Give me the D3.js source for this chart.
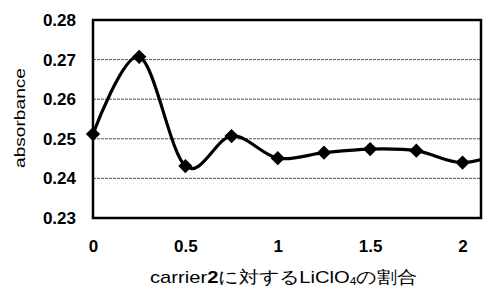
<!DOCTYPE html>
<html>
<head>
<meta charset="utf-8">
<script src="https://cdn.jsdelivr.net/npm/d3@7"></script>
<style>
  body { margin: 0; background: #fff; }
  text { font-family: "Liberation Sans", Arial, sans-serif; }
</style>
</head>
<body>
<script>
// ratio of LiClO4 to carrier2 and absorbance
var ratio = [0, 0.25, 0.5, 0.75, 1, 1.25, 1.5, 1.75, 2, 2.25]
var absorbance = [0.2512, 0.2707, 0.2431, 0.2507, 0.2451, 0.2465, 0.2474, 0.2470, 0.2440, 0.2470]
var xTicks = [0, 0.5, 1, 1.5, 2]
var yTicks = [0.23, 0.24, 0.25, 0.26, 0.27, 0.28]

var w = 483
var h = 290
var m = {left: 93, right: 2, top: 20, bottom: 72}

var svg = d3.select("body").append("svg")
    .attr("width", w)
    .attr("height", h)

var x = d3.scaleLinear().domain([0, 2.1]).range([m.left, w - m.right])
var y = d3.scaleLinear().domain([0.23, 0.28]).range([h - m.bottom, m.top])

// grid
svg.append("g").selectAll("line").data(yTicks.slice(1, -1)).enter()
    .append("line")
    .attr("x1", x(0)).attr("x2", x(2.1))
    .attr("y1", function (d) { return y(d) }).attr("y2", function (d) { return y(d) })
    .attr("stroke", "#555")
    .attr("stroke-width", 1)
    .attr("stroke-dasharray", "3,1")

svg.append("clipPath").attr("id", "clip")
    .append("rect")
    .attr("x", x(0) - 9).attr("y", y(0.28))
    .attr("width", x(2.1) - x(0) + 9).attr("height", y(0.23) - y(0.28))

var line = d3.line()
    .x(function (d, i) { return x(ratio[i]) })
    .y(function (d) { return y(d) })
    .curve(d3.curveCatmullRom.alpha(0))

var g = svg.append("g").attr("clip-path", "url(#clip)")

g.append("path")
    .datum(absorbance)
    .attr("d", line)
    .attr("fill", "none")
    .attr("stroke", "#000")
    .attr("stroke-width", 3.2)

g.selectAll("path.pt").data(absorbance).enter()
    .append("path")
    .attr("class", "pt")
    .attr("d", d3.symbol().type(d3.symbolDiamond2).size(130))
    .attr("transform", function (d, i) { return "translate(" + x(ratio[i]) + "," + y(d) + ")" })
    .attr("fill", "#000")

// frame
svg.append("rect")
    .attr("x", x(0)).attr("y", y(0.28))
    .attr("width", x(2.1) - x(0)).attr("height", y(0.23) - y(0.28))
    .attr("fill", "none")
    .attr("stroke", "#000")
    .attr("stroke-width", 2.5)

var yAxis = d3.axisLeft(y).tickValues(yTicks).tickSize(0).tickPadding(17)
    .tickFormat(d3.format(".2f"))
var xAxis = d3.axisBottom(x).tickValues(xTicks).tickSize(0).tickPadding(22)
    .tickFormat(function (d) { return d })

svg.append("g")
    .attr("transform", "translate(" + m.left + ",0)")
    .call(yAxis)
    .call(function (s) { s.select(".domain").remove() })
    .selectAll("text")
    .attr("font-size", 17).attr("font-weight", "bold").attr("font-family", "Liberation Sans, Arial, sans-serif")

svg.append("g")
    .attr("transform", "translate(0," + (h - m.bottom) + ")")
    .call(xAxis)
    .call(function (s) { s.select(".domain").remove() })
    .selectAll("text")
    .attr("font-size", 17).attr("font-weight", "bold").attr("font-family", "Liberation Sans, Arial, sans-serif")

svg.append("text")
    .attr("transform", "translate(25," + 118 + ") rotate(-90)")
    .attr("text-anchor", "middle")
    .attr("font-size", 15)
    .attr("textLength", 100)
    .attr("lengthAdjust", "spacingAndGlyphs")
    .text("absorbance")

var t = svg.append("text")
    .attr("x", 150).attr("y", 283)
    .attr("font-size", 17)
    .attr("textLength", 267)
    .attr("lengthAdjust", "spacingAndGlyphs")
    .attr("font-family", "Liberation Sans, Noto Sans CJK JP, sans-serif")
t.append("tspan").text("carrier")
t.append("tspan").attr("font-weight", "bold").text("2")
t.append("tspan").text("に対するLiClO")
t.append("tspan").attr("font-size", 10).attr("dy", 2).text("4")
t.append("tspan").attr("dy", -2).text("の割合")
</script>
</body>
</html>
